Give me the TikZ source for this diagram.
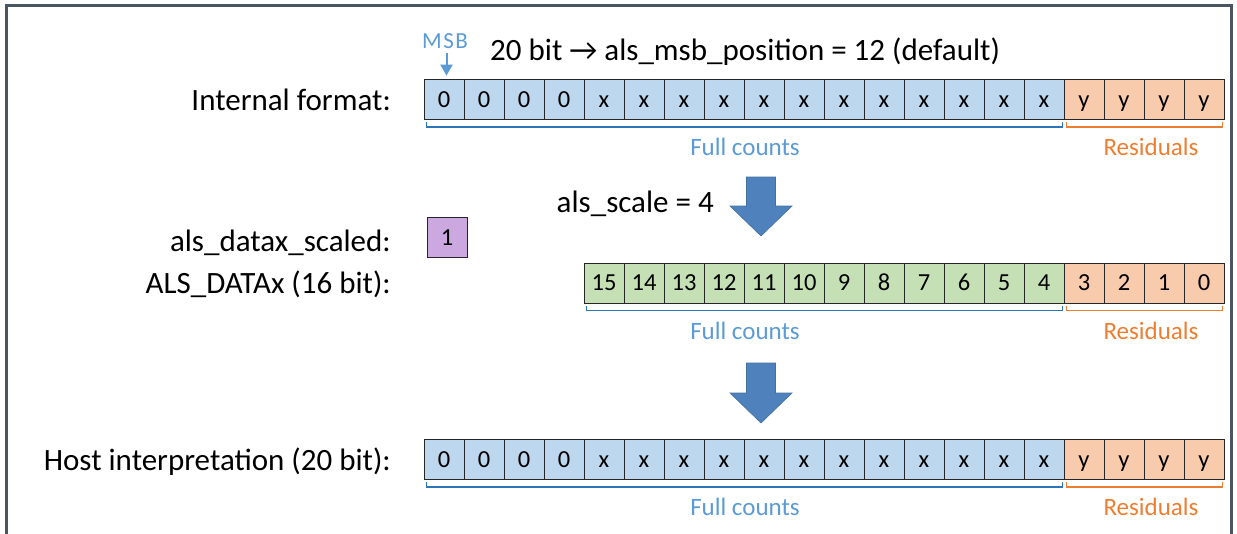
\documentclass[tikz,border=0pt]{standalone}
\usepackage{fontspec}
\setmainfont{Carlito}
\usetikzlibrary{arrows.meta}

\definecolor{cellblue}{HTML}{BDD7EE}
\definecolor{cellorange}{HTML}{F8CBAD}
\definecolor{cellgreen}{HTML}{C5E0B4}
\definecolor{cellpurple}{HTML}{CCA8E0}
\definecolor{txtblue}{HTML}{5B9BD5}
\definecolor{txtorange}{HTML}{ED7D31}
\definecolor{brblue}{HTML}{2E75B6}
\definecolor{arrowblue}{HTML}{4F81BD}
\definecolor{arrowedge}{HTML}{41719C}
\definecolor{framegray}{HTML}{4A5562}

% bracket under a run of cells: colour, first node, last node
\newcommand\countbracket[3]{%
  \draw[#1, line width=1.3pt]
    ([xshift=3pt,yshift=-2.5pt]#2.south west) -- ([xshift=3pt,yshift=-7pt]#2.south west)
    -- ([xshift=-2pt,yshift=-7pt]#3.south east) -- ([xshift=-2pt,yshift=-2.5pt]#3.south east);
}

\tikzset{
  cellbox/.style={draw=black!85, line width=0.8pt, minimum size=40pt, inner sep=0pt,
    text height=15pt, text depth=0pt, font=\fontsize{24.5}{24.5}\selectfont},
  rowlabel/.style={anchor=base east, inner sep=0pt, font=\fontsize{31}{31}\selectfont},
  fulllbl/.style={anchor=base, inner sep=0pt, text=txtblue, font=\fontsize{25}{25}\selectfont},
  reslbl/.style={anchor=base, inner sep=0pt, text=txtorange, font=\fontsize{25}{25}\selectfont},
  bigarrow/.style={fill=arrowblue, draw=arrowedge, line width=0.6pt},
}

\begin{document}
\begin{tikzpicture}[x=1pt, y=-1pt]
\useasboundingbox (0,0) rectangle (1237,533);
\clip (0,0) rectangle (1237,533);

% outer frame
\draw[framegray, line width=3pt] (6,545) -- (6,5) -- (1231,5) -- (1231,545);

% heading
\node[anchor=base west, inner sep=0pt, font=\fontsize{31}{31}\selectfont] (title) at (490,60)
  {20 bit → als\_msb\_position = 12 (default)};

% row labels
\node[rowlabel] (lint)  at (391,110)   {Internal format:};
\node[rowlabel] (lscl)  at (391,251)   {als\_datax\_scaled:};
\node[rowlabel] (ldata) at (391,293)   {ALS\_DATAx (16 bit):};
\node[rowlabel] (lhost) at (391,470)   {Host interpretation (20 bit):};

% internal format, 20 bit
\foreach \i in {0,...,19}{
  \ifnum\i<16 \def\cellfill{cellblue}\else\def\cellfill{cellorange}\fi
  \ifnum\i<4 \def\celltxt{0}\else\ifnum\i<16 \def\celltxt{x}\else\def\celltxt{y}\fi\fi
  \node[cellbox, fill=\cellfill] (a\i) at ({444+40*\i},99.5) {\celltxt};
}

% MSB marker
\node[anchor=base, inner sep=0pt, text=txtblue, font=\fontsize{23}{23}\selectfont] (msb) at (445,48) {M\kern1.5pt S\kern1.5pt B};
\draw[txtblue, line width=2pt, -{Triangle[length=11pt,width=12pt]}] ([xshift=1.5pt,yshift=-5pt]msb.south) -- ([xshift=2.5pt,yshift=3.5pt]a0.north);

\countbracket{brblue}{a0}{a15}
\countbracket{txtorange}{a16}{a19}
\node[fulllbl] (fc1) at (745,155.5) {Full counts};
\node[reslbl]  (rs1) at (1151,155.5) {Residuals};

% scaling step
\coordinate (arr1) at (761,177);
\draw[bigarrow] (arr1) ++(-14.5,0) -- ++(29,0) -- ++(0,29) -- ++(16.5,0) -- ++(-31,30)
  -- ++(-31,-30) -- ++(16.5,0) -- cycle;
\node[anchor=base east, inner sep=0pt, font=\fontsize{31}{31}\selectfont] (scl) at (714,212) {als\_scale = 4};

% scaled flag
\node[cellbox, fill=cellpurple] (flag) at (447,237.5) {1};

% ALS_DATAx register, 16 bit
\foreach \i in {4,...,19}{
  \ifnum\i<16 \def\cellfill{cellgreen}\else\def\cellfill{cellorange}\fi
  \pgfmathtruncatemacro\bitno{19-\i}
  \node[cellbox, fill=\cellfill] (b\i) at ({444+40*\i},283) {\bitno};
}
\countbracket{brblue}{b4}{b15}
\countbracket{txtorange}{b16}{b19}
\node[fulllbl] (fc2) at (745,339) {Full counts};
\node[reslbl]  (rs2) at (1151,339) {Residuals};

% host step
\coordinate (arr2) at (761,363);
\draw[bigarrow] (arr2) ++(-14.5,0) -- ++(29,0) -- ++(0,30) -- ++(16.5,0) -- ++(-31,30)
  -- ++(-31,-30) -- ++(16.5,0) -- cycle;

% host interpretation, 20 bit
\foreach \i in {0,...,19}{
  \ifnum\i<16 \def\cellfill{cellblue}\else\def\cellfill{cellorange}\fi
  \ifnum\i<4 \def\celltxt{0}\else\ifnum\i<16 \def\celltxt{x}\else\def\celltxt{y}\fi\fi
  \node[cellbox, fill=\cellfill] (c\i) at ({444+40*\i},459.5) {\celltxt};
}
\countbracket{brblue}{c0}{c15}
\countbracket{txtorange}{c16}{c19}
\node[fulllbl] (fc3) at (745,515.5) {Full counts};
\node[reslbl]  (rs3) at (1151,515.5) {Residuals};
\end{tikzpicture}
\end{document}
